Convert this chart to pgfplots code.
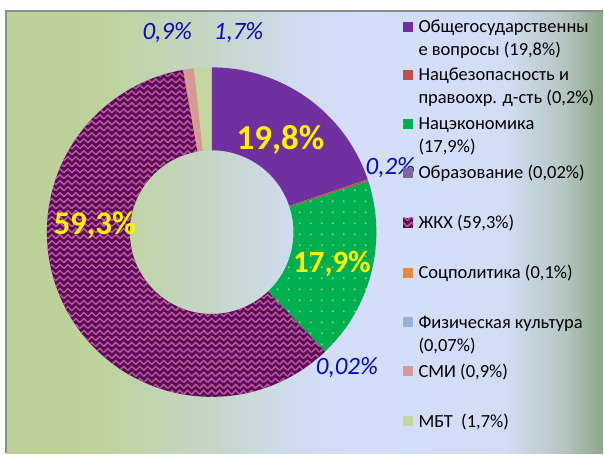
\documentclass[border=0pt]{standalone}
\usepackage{pgfplots}
\pgfplotsset{compat=1.18}
\usepackage{fontspec}
\setmainfont{Carlito}
\usetikzlibrary{patterns}

\definecolor{c1}{HTML}{7030A0}
\definecolor{c2}{HTML}{C0504D}
\definecolor{c3}{HTML}{00B050}
\definecolor{c4}{HTML}{8064A2}
\definecolor{c5}{HTML}{5C065E}
\definecolor{c6}{HTML}{E8893D}
\definecolor{c7}{HTML}{98B1D8}
\definecolor{c8}{HTML}{D99694}
\definecolor{c9}{HTML}{C3D69B}
\definecolor{dotg}{HTML}{7FD070}
\definecolor{zzpink}{HTML}{B85C96}
\definecolor{lblue}{HTML}{0A0AC0}
\definecolor{bg1}{HTML}{BCD298}
\definecolor{bg2}{HTML}{BED39C}
\definecolor{bg3}{HTML}{C5D6C8}
\definecolor{bg4}{HTML}{D0DCF2}
\definecolor{bg5}{HTML}{D4DEFA}
\definecolor{bg6}{HTML}{D2DDF5}
\definecolor{bg7}{HTML}{B6C6C4}
\definecolor{bg8}{HTML}{8CA686}

\pgfdeclarehorizontalshading{bgsh}{100bp}{color(0bp)=(bg1); color(25bp)=(bg1);
  color(29.44bp)=(bg1); color(32.79bp)=(bg2); color(42.42bp)=(bg3);
  color(49.54bp)=(bg4); color(54.56bp)=(bg5); color(66.71bp)=(bg6);
  color(71.73bp)=(bg7); color(75bp)=(bg8); color(100bp)=(bg8)}

\pgfdeclarepatternformonly{zigzag}{\pgfqpoint{-1pt}{-1pt}}{\pgfqpoint{9pt}{7pt}}{\pgfqpoint{8pt}{6pt}}{%
  \pgfsetlinewidth{1.5pt}%
  \pgfpathmoveto{\pgfqpoint{0pt}{0pt}}%
  \pgfpathlineto{\pgfqpoint{4pt}{4pt}}%
  \pgfpathlineto{\pgfqpoint{8pt}{0pt}}%
  \pgfusepath{stroke}}
\pgfdeclarepatternformonly{gdots}{\pgfqpoint{0pt}{0pt}}{\pgfqpoint{10.5pt}{10.5pt}}{\pgfqpoint{10.5pt}{10.5pt}}{%
  \pgfpathcircle{\pgfqpoint{5pt}{5pt}}{1.1pt}\pgfusepath{fill}}

\tikzset{
  s1/.style={fill=c1},
  s2/.style={fill=c2},
  s3/.style={fill=c3, postaction={pattern=gdots, pattern color=dotg}},
  s4/.style={fill=c4},
  s5/.style={fill=c5, postaction={pattern=zigzag, pattern color=zzpink}},
  s6/.style={fill=c6},
  s7/.style={fill=c7},
  s8/.style={fill=c8},
  s9/.style={fill=c9},
  big/.style={font=\fontsize{35}{38}\selectfont\bfseries, text=yellow, inner sep=0pt, anchor=base},
  small/.style={font=\fontsize{25}{28}\selectfont\itshape, text=lblue, inner sep=0pt, anchor=base},
  leg/.style={font=\fontsize{18.5}{22}\selectfont, text=black, inner sep=0pt, anchor=base west},
}

\newcommand\legsq[2]{\fill[#1] (axis cs:404,#2-5) rectangle (axis cs:414,#2+5);}

\begin{document}
\begin{tikzpicture}
\begin{axis}[hide axis, scale only axis, width=604pt, height=454pt,
  xmin=0, xmax=604, ymin=0, ymax=454, clip=false]
% background
\fill[white] (axis cs:0,0) rectangle (axis cs:604,454);
\shade[shading=bgsh] (axis cs:7,0) rectangle (axis cs:604,442);
\draw[color=black!45, line width=2pt] (axis cs:6.5,0) -- (axis cs:6.5,442.5) -- (axis cs:604,442.5);

% donut slices (percent values, clockwise from 12 o'clock)
\foreach \v/\st [remember=\e as \s (initially 0)] in
  {19.8/s1, 0.2/s2, 17.9/s3, 0.02/s4, 59.3/s5, 0.1/s6, 0.07/s7, 0.9/s8, 1.7/s9} {
  \pgfmathsetmacro\e{\s+\v}
  \pgfmathsetmacro\aa{90-3.6*\s}
  \pgfmathsetmacro\ab{90-3.6*\e}
  \edef\temp{\noexpand\fill[\st] ([shift={(\aa:165pt)}]axis cs:212,221.5)
    arc[start angle=\aa, end angle=\ab, radius=165pt]
    -- ([shift={(\ab:82pt)}]axis cs:212,221.5)
    arc[start angle=\ab, end angle=\aa, radius=82pt] -- cycle;}
  \temp
}

% data labels
\node[big] at (axis cs:281,304) {19,8\%};
\node[big, font=\fontsize{31}{34}\selectfont\bfseries] at (axis cs:332.5,181) {17,9\%};
\node[big, font=\fontsize{33}{36}\selectfont\bfseries] at (axis cs:95,219) {59,3\%};
\node[small] at (axis cs:391,279) {0,2\%};
\node[small] at (axis cs:347.5,79) {0,02\%};
\node[small] at (axis cs:167.5,414) {0,9\%};
\node[small] at (axis cs:239,414) {1,7\%};

% legend
\legsq{s1}{427}
\node[leg] at (axis cs:419,421) {Общегосударственны};
\node[leg] at (axis cs:419,398) {е вопросы (19,8\%)};
\legsq{s2}{379}
\node[leg] at (axis cs:419,373) {Нацбезопасность и};
\node[leg] at (axis cs:419,350) {правоохр. д-сть (0,2\%)};
\legsq{s3}{330}
\node[leg] at (axis cs:419,324) {Нацэкономика};
\node[leg] at (axis cs:419,301) {(17,9\%)};
\legsq{s4}{281}
\node[leg] at (axis cs:419,275) {Образование (0,02\%)};
\legsq{s5}{231}
\node[leg] at (axis cs:419,225) {ЖКХ (59,3\%)};
\legsq{s6}{181}
\node[leg] at (axis cs:419,175) {Соцполитика (0,1\%)};
\legsq{s7}{131}
\node[leg] at (axis cs:419,125) {Физическая культура};
\node[leg] at (axis cs:419,102) {(0,07\%)};
\legsq{s8}{82}
\node[leg] at (axis cs:419,76) {СМИ (0,9\%)};
\legsq{s9}{32}
\node[leg] at (axis cs:419,26) {МБТ~ (1,7\%)};
\end{axis}
\end{tikzpicture}
\end{document}
